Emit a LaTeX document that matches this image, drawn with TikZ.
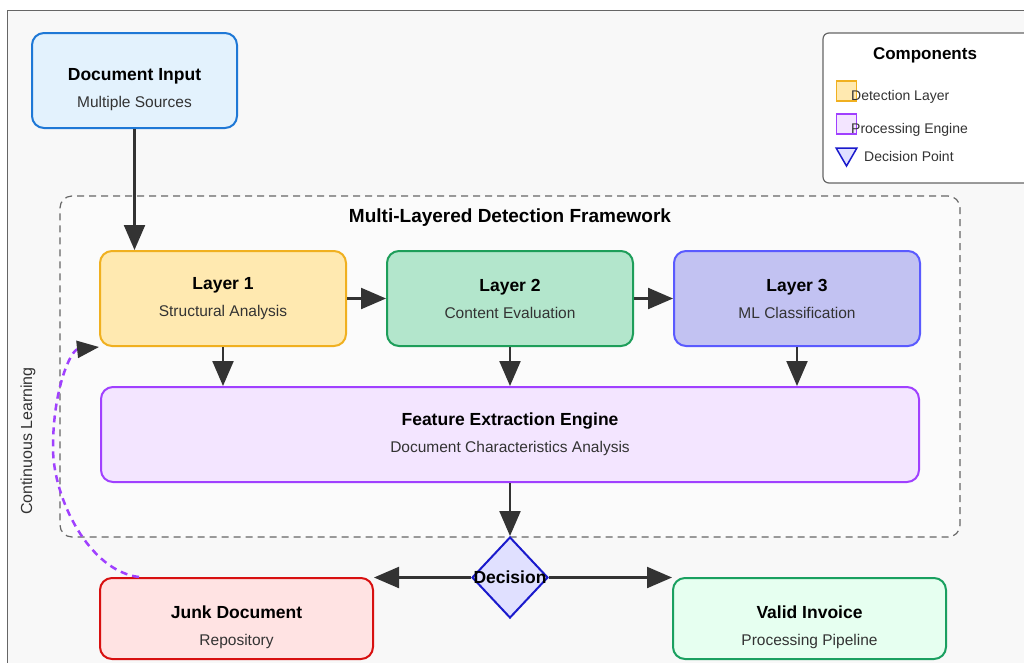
\documentclass[tikz,border=0pt]{standalone}
\usepackage{fontspec}
\setmainfont{Liberation Sans}
\usetikzlibrary{arrows.meta,positioning,shapes.geometric}

\definecolor{bggrey}{HTML}{F8F8F8}
\definecolor{framegrey}{HTML}{666666}
\definecolor{arrowgrey}{HTML}{333333}
\definecolor{subgrey}{HTML}{333333}
\definecolor{inputfill}{HTML}{E3F2FD}
\definecolor{inputline}{HTML}{1E78D6}
\definecolor{detfill}{HTML}{FFE9B0}
\definecolor{detline}{HTML}{F0B020}
\definecolor{contfill}{HTML}{B3E6CC}
\definecolor{contline}{HTML}{1E9E5A}
\definecolor{mlfill}{HTML}{C2C2F2}
\definecolor{mlline}{HTML}{5A5AFF}
\definecolor{procfill}{HTML}{F3E5FF}
\definecolor{procline}{HTML}{A040FF}
\definecolor{decfill}{HTML}{E0E0FF}
\definecolor{decline}{HTML}{1A1ACC}
\definecolor{junkfill}{HTML}{FFE3E3}
\definecolor{junkline}{HTML}{D81010}
\definecolor{validfill}{HTML}{E6FFF0}
\definecolor{validline}{HTML}{1AA060}

\newcommand\boxtitle{\bfseries\fontsize{17.5}{27}\selectfont\color{black}}
\newcommand\boxsub{\fontsize{15.5}{27}\selectfont\color{subgrey}}
\newcommand\legendfont{\fontsize{14}{17}\selectfont\color{subgrey}}
\newcommand\dropstrut{\rule{0pt}{31pt}}

\tikzset{
  flow/.style={draw=arrowgrey, line width=2.2pt, -{Triangle[length=25pt,width=21pt]}},
  learn/.style={draw=procline, line width=2.5pt, dash pattern=on 7pt off 5pt,
    -{Triangle[length=22pt,width=17pt,color=arrowgrey,fill=arrowgrey]}},
  box/.style={rectangle, rounded corners=12pt, line width=2pt, align=center,
    minimum width=246pt, minimum height=95pt, font=\boxsub},
  legendkey/.style={rectangle, line width=1.5pt, minimum size=20pt, inner sep=0pt},
}

\begin{document}
\begin{tikzpicture}[x=1pt, y=-1pt, node distance=39pt]
    \useasboundingbox (0,0) rectangle (1024,662);
    \fill[bggrey] (7,10) rectangle (1030,670);
    \draw[framegrey, line width=1pt] (7,670) -- (7,10) -- (1030,10);

    % framework
    \node[rectangle, draw=framegrey, dashed, dash pattern=on 7pt off 5pt, line width=1.2pt,
          rounded corners=12pt, fill=white!40!bggrey, minimum width=900pt, minimum height=341pt]
          (frame) at (510,366.5) {};
    \node[font=\boxtitle\fontsize{19}{22}\selectfont] (frametitle) at (510,218) {Multi-Layered Detection Framework};

    \node[box, fill=inputfill, draw=inputline, minimum width=205pt] (input) at (134.5,80.5)
          {{\boxtitle\dropstrut Document Input}\\Multiple Sources};

    \node[box, fill=detfill, draw=detline] (l1) at (223,298.5)
          {{\boxtitle Layer 1}\\Structural Analysis};
    \node[box, fill=contfill, draw=contline, right=of l1] (l2)
          {{\boxtitle Layer 2}\\Content Evaluation};
    \node[box, fill=mlfill, draw=mlline, right=of l2] (l3)
          {{\boxtitle Layer 3}\\ML Classification};

    \node[box, fill=procfill, draw=procline, minimum width=818pt, below=of l2] (feature)
          {{\boxtitle Feature Extraction Engine}\\Document Characteristics Analysis};

    \node[diamond, fill=decfill, draw=decline, line width=2pt, inner sep=0pt,
          minimum width=76pt, minimum height=81pt, below=53pt of feature] (dec) {};
    \node[font=\boxtitle] (dectext) at (dec) {Decision};

    \node[box, fill=junkfill, draw=junkline, minimum width=273pt, minimum height=81pt] (junk)
          at (236.5,618.5) {{\boxtitle\dropstrut Junk Document}\\Repository};
    \node[box, fill=validfill, draw=validline, minimum width=273pt, minimum height=81pt] (valid)
          at (809.5,618.5) {{\boxtitle\dropstrut Valid Invoice}\\Processing Pipeline};

    \path (input.south) edge[flow] (input.south |- l1.north)
          (l1) edge[flow] (l2)
          (l2) edge[flow] (l3)
          (l1.south) edge[flow] (l1.south |- feature.north)
          (l2.south) edge[flow] (l2.south |- feature.north)
          (l3.south) edge[flow] (l3.south |- feature.north)
          (feature) edge[flow] (dec)
          (dec.west) edge[flow] (dec.west -| junk.east)
          (dec.east) edge[flow] (dec.east -| valid.west);

    % feedback loop
    \coordinate (learnmid) at (53,448);
    \draw[learn] ([xshift=40pt]junk.north west) .. controls +(-50,-6) and +(0,50) .. (learnmid)
                 .. controls +(0,-60) and +(-28,3) .. (l1.south west);
    \node[rotate=90, font=\legendfont\fontsize{16}{18}\selectfont] (learnlabel) at (28,441) {Continuous Learning};

    % legend
    \node[rectangle, draw=framegrey, fill=white, line width=1.2pt, rounded corners=6pt,
          minimum width=207pt, minimum height=150pt] (legend) at (926.5,108) {};
    \node[font=\boxtitle\fontsize{17}{20}\selectfont] (legendtitle) at (925,55) {Components};
    \node[legendkey, fill=detfill, draw=detline] (keydet) at (846.5,91) {};
    \node[anchor=west, inner sep=0pt, font=\legendfont] (labdet) at (851,96.5) {Detection Layer};
    \node[legendkey, fill=procfill, draw=procline] (keyproc) at (846.5,124) {};
    \node[anchor=west, inner sep=0pt, font=\legendfont] (labproc) at (851,130) {Processing Engine};
    \node[regular polygon, regular polygon sides=3, shape border rotate=180, inner sep=0pt,
          minimum size=24pt, fill=decfill, draw=decline, line width=1.5pt] (keydec) at (846.5,154) {};
    \node[anchor=west, inner sep=0pt, font=\legendfont] (labdec) at (864,156) {Decision Point};
\end{tikzpicture}
\end{document}
